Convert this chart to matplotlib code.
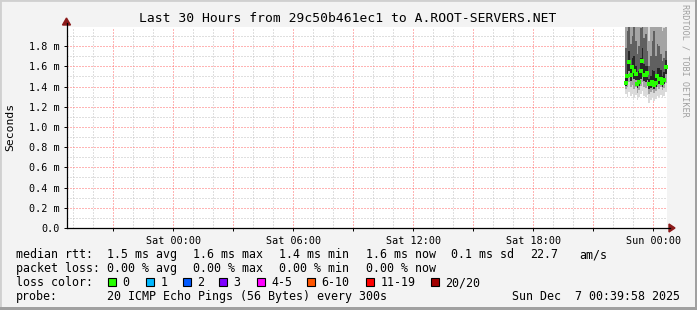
import numpy as np
import pandas as pd
import matplotlib
matplotlib.use("Agg")
import matplotlib.pyplot as plt
import matplotlib.dates as mdates
from matplotlib.ticker import FuncFormatter, MultipleLocator
from matplotlib.patches import Rectangle

# ---- data (ms), one value per 5 minute step ----
step_end = pd.date_range("2025-12-06 22:40", periods=25, freq="5min")
median = [1.44, 1.50, 1.64, 1.51, 1.59, 1.55, 1.52, 1.43, 1.45, 1.55, 1.65, 1.51, 1.51,
          1.53, 1.43, 1.43, 1.45, 1.42, 1.44, 1.50, 1.48, 1.48, 1.44, 1.47, 1.59]
smoke_min = [1.33, 1.30, 1.35, 1.31, 1.33, 1.29, 1.32, 1.27, 1.30, 1.33, 1.36, 1.31, 1.30,
             1.32, 1.24, 1.27, 1.30, 1.26, 1.28, 1.31, 1.30, 1.32, 1.29, 1.31, 1.35]
smoke_p10 = [1.38, 1.40, 1.45, 1.40, 1.42, 1.38, 1.40, 1.34, 1.37, 1.41, 1.45, 1.40, 1.39,
             1.41, 1.33, 1.35, 1.37, 1.34, 1.36, 1.40, 1.38, 1.40, 1.37, 1.39, 1.44]
smoke_p25 = [1.41, 1.45, 1.55, 1.46, 1.50, 1.48, 1.47, 1.39, 1.41, 1.48, 1.56, 1.46, 1.45,
             1.47, 1.38, 1.39, 1.41, 1.38, 1.40, 1.45, 1.43, 1.44, 1.40, 1.43, 1.52]
smoke_p60 = [1.52, 1.62, 1.75, 1.58, 1.68, 1.70, 1.60, 1.50, 1.55, 1.68, 1.78, 1.62, 1.60,
             1.60, 1.48, 1.50, 1.56, 1.55, 1.52, 1.58, 1.58, 1.56, 1.50, 1.54, 1.66]
smoke_p75 = [1.78, 1.95, 2.05, 1.82, 1.90, 2.10, 1.85, 1.72, 1.80, 1.98, 2.05, 1.88, 1.92,
             1.75, 1.60, 1.70, 1.85, 1.95, 1.70, 1.82, 1.80, 1.72, 1.65, 1.68, 1.75]
smoke_p90 = [2.20, 2.30, 2.40, 2.20, 2.30, 2.50, 2.20, 2.10, 2.20, 2.30, 2.40, 2.30, 2.30,
             2.10, 1.85, 2.00, 2.20, 2.30, 2.05, 2.20, 2.10, 2.00, 1.95, 1.98, 2.05]
smoke_max = [2.60, 2.70, 2.80, 2.60, 2.70, 2.90, 2.60, 2.50, 2.60, 2.70, 2.80, 2.70, 2.70,
             2.50, 2.10, 2.40, 2.60, 2.70, 2.40, 2.60, 2.50, 2.40, 2.30, 2.40, 2.50]

end_time = pd.Timestamp("2025-12-07 00:39:58")
start_time = end_time - pd.Timedelta(hours=30)

loss_labels = ["0", "1", "2", "3", "4-5", "6-10", "11-19", "20/20"]
loss_colors = ["#26ff00", "#00b8ff", "#0059ff", "#7e00ff", "#ff00ff", "#ff5500", "#ff0000", "#a10000"]

title = "Last 30 Hours from 29c50b461ec1 to A.ROOT-SERVERS.NET"

W, H = 697, 310
BG = "#f3f3f3"
MONO = "DejaVu Sans Mono"

fig = plt.figure(figsize=(W / 100, H / 100), dpi=100, facecolor=BG)


def fx(x):
    return x / W


def fy(y):
    return 1 - y / H


# border (light top/left, dark bottom/right)
fig.patches.append(Rectangle((0, 0), 1, 1, transform=fig.transFigure, fill=False,
                             edgecolor="#d0d0d0", linewidth=2))
fig.patches.append(Rectangle((0, 0), 1, fy(307), transform=fig.transFigure,
                             facecolor="#a0a0a0", edgecolor="none"))
fig.patches.append(Rectangle((fx(695), 0), 1, 1, transform=fig.transFigure,
                             facecolor="#a0a0a0", edgecolor="none"))

left, right, top, bottom = 66.5, 666.5, 27.0, 228.0
ax = fig.add_axes([fx(left), fy(bottom), fx(right - left), (bottom - top) / H])
ax.set_facecolor("white")

# smoke layers
t = mdates.date2num(step_end)
w = 5 / (24 * 60)
mn, mx = np.array(smoke_min) / 1000, np.array(smoke_max) / 1000
p10, p90 = np.array(smoke_p10) / 1000, np.array(smoke_p90) / 1000
p25, p75 = np.array(smoke_p25) / 1000, np.array(smoke_p75) / 1000
p60 = np.array(smoke_p60) / 1000
ax.bar(t - w, mx - mn, bottom=mn, width=w, align="edge", color="#dadada", linewidth=0, zorder=2)
ax.bar(t - w, p90 - p10, bottom=p10, width=w, align="edge", color="#a4a4a4", linewidth=0, zorder=2)
ax.bar(t - w, p75 - p25, bottom=p25, width=w, align="edge", color="#606060", linewidth=0, zorder=2)
ax.bar(t - w, p60 - p25, bottom=p25, width=w, align="edge", color="#262626", linewidth=0, zorder=2)
ax.plot(t - w / 2, np.array(median) / 1000, linestyle="none", marker="s", markersize=2.2,
        markeredgewidth=0, color=loss_colors[0], zorder=4)

ax.set_xlim(mdates.date2num(start_time), mdates.date2num(end_time))
ax.set_ylim(0, 0.00199)

# grid
ax.xaxis.set_major_locator(mdates.HourLocator(byhour=range(0, 24, 3)))
ax.xaxis.set_minor_locator(mdates.HourLocator(byhour=[h for h in range(24) if h % 3]))
ax.yaxis.set_major_locator(MultipleLocator(0.0002))
ax.yaxis.set_minor_locator(MultipleLocator(0.0001))
ax.grid(which="minor", color="#c0c0c0", linestyle=(0, (1, 2)), linewidth=0.72, zorder=1)
ax.grid(which="major", color="#ff6a6a", linestyle=(0, (1, 2)), linewidth=0.72, zorder=1.5)
ax.set_axisbelow(True)


def xfmt(v, pos):
    d = mdates.num2date(v)
    if d.hour % 6 == 0:
        return d.strftime("%a %H:%M")
    return ""


ax.xaxis.set_major_formatter(FuncFormatter(xfmt))
ax.yaxis.set_major_formatter(FuncFormatter(lambda v, p: "0.0" if v == 0 else f"{v * 1000:.1f} m"))
ax.tick_params(axis="both", which="major", length=2.5, width=0.7, color="black",
               labelsize=7.3, pad=2.5)
ax.tick_params(axis="both", which="minor", length=0)
for lab in ax.get_xticklabels() + ax.get_yticklabels():
    lab.set_fontfamily(MONO)
ax.tick_params(axis="x", pad=3)

for s in ax.spines.values():
    s.set_visible(False)

# axis lines with arrow heads
fig.add_artist(plt.Line2D([fx(left), fx(670)], [fy(bottom), fy(bottom)], color="black", linewidth=0.9))
fig.add_artist(plt.Line2D([fx(left), fx(left)], [fy(bottom), fy(23)], color="black", linewidth=0.9))
fig.add_artist(plt.Polygon([[fx(669), fy(224)], [fx(675), fy(bottom)], [fx(669), fy(232)]],
                           closed=True, color="#8b1a1a", transform=fig.transFigure))
fig.add_artist(plt.Polygon([[fx(62.5), fy(25)], [fx(left), fy(18)], [fx(70.5), fy(25)]],
                           closed=True, color="#8b1a1a", transform=fig.transFigure))

# texts
fig.text(fx(348), fy(18.5), title, ha="center", va="center", fontsize=9.4, family=MONO)
fig.text(fx(10.5), fy(127), "Seconds", rotation=90, ha="center", va="center",
         fontsize=8.2, family=MONO)
fig.text(fx(685), fy(60), "RRDTOOL / TOBI OETIKER", rotation=-90, ha="center", va="center",
         fontsize=6.1, family=MONO, color="#a0a0a0")

leg_fs = 8.4
col_x = [107, 193, 279, 366, 451, 530, 579]


def legend_line(y, label, parts, xs):
    fig.text(fx(16), fy(y), label, ha="left", va="baseline", fontsize=leg_fs, family=MONO)
    for s, x in zip(parts, xs):
        fig.text(fx(x), fy(y), s, ha="left", va="baseline", fontsize=leg_fs, family=MONO)


legend_line(258, "median rtt:", ["1.5 ms avg", "1.6 ms max", "1.4 ms min", "1.6 ms now",
                                 "0.1 ms sd", "22.7", "am/s"], col_x)
legend_line(272, "packet loss:", ["0.00 % avg", "0.00 % max", "0.00 % min", "0.00 % now"], col_x)
legend_line(286, "loss color:", [], [])
box_x = [108, 146, 183, 219, 257, 307, 366, 431]
for lab, c, bx in zip(loss_labels, loss_colors, box_x):
    fig.patches.append(Rectangle((fx(bx), fy(286)), fx(8), 8 / H, transform=fig.transFigure,
                                 facecolor=c, edgecolor="black", linewidth=0.8))
    fig.text(fx(bx + 14.5), fy(286), lab, ha="left", va="baseline", fontsize=leg_fs, family=MONO)
legend_line(300, "probe:", ["20 ICMP Echo Pings (56 Bytes) every 300s"], [107])
fig.text(fx(680), fy(300), "Sun Dec  7 00:39:58 2025", ha="right", va="baseline",
         fontsize=leg_fs, family=MONO)

fig.savefig("out.png", dpi=100, facecolor=BG)
